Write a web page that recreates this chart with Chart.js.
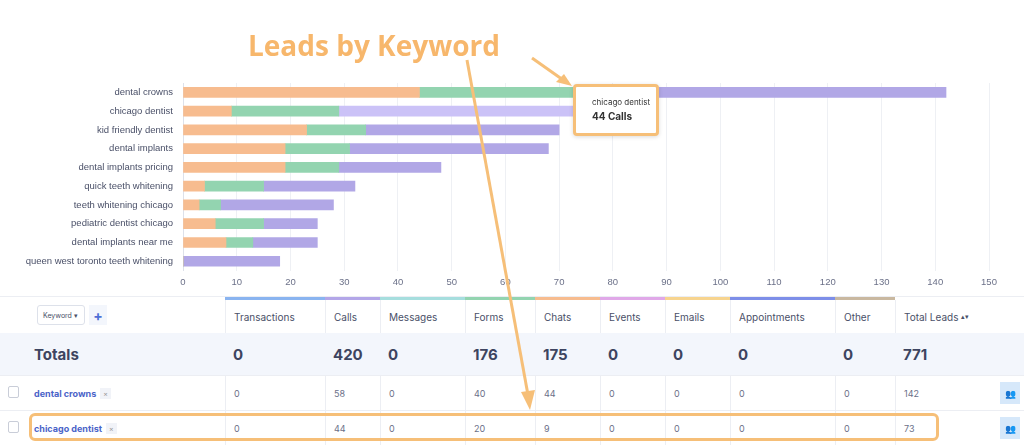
<!DOCTYPE html>
<html><head><meta charset="utf-8">
<script src="https://cdn.jsdelivr.net/npm/chart.js@4/dist/chart.umd.min.js"></script>
<style>
body{margin:0;width:1024px;height:445px;overflow:hidden;background:#fff;font-family:Inter,"Noto Sans",sans-serif;position:relative}
#wrap{position:absolute;left:0;top:0;width:1024px;height:296px}
.c{position:absolute;box-sizing:border-box;display:flex;align-items:center;color:#4a5068;font-size:10px}
</style></head><body>
<div id="wrap"><canvas id="chart"></canvas></div>
<div id="table"></div>
<div style="position:absolute;left:573px;top:84px;width:86px;height:52px;border:3px solid #f6bf78;border-radius:4px;box-sizing:border-box;background:#fff;box-shadow:0 1px 4px rgba(0,0,0,.15)">
  <div style="position:absolute;left:16px;top:10px;font-size:8px;color:#333">chicago dentist</div>
  <div style="position:absolute;left:16px;top:23px;font-size:10px;font-weight:bold;color:#333">44 Calls</div>
</div>
<div style="position:absolute;left:248px;top:26px;font-size:28px;font-weight:bold;color:#f7b76c;font-family:'Open Sans',sans-serif">Leads by Keyword</div>
<div style="position:absolute;left:29px;top:413px;width:910px;height:28px;border:3px solid #f6bf78;border-radius:6px;box-sizing:border-box"></div>
<svg style="position:absolute;left:0;top:0" width="1024" height="445">
  <g stroke="#f6bf78" stroke-width="3" fill="#f6bf78">
    <line x1="532" y1="58" x2="566" y2="82"/>
    <polygon points="572,86 556,82 564,74" stroke="none"/>
    <line x1="467" y1="60" x2="528" y2="395"/>
    <polygon points="530,410 521,392 535,390" stroke="none"/>
  </g>
</svg>
<script>
const keywords = ["dental crowns","chicago dentist","kid friendly dentist","dental implants","dental implants pricing","quick teeth whitening","teeth whitening chicago","pediatric dentist chicago","dental implants near me","queen west toronto teeth whitening"];
const chats = [44, 9, 23, 19, 19, 4, 3, 6, 8, 0];
const forms = [40, 20, 11, 12, 10, 11, 4, 9, 5, 0];
const calls = [58, 44, 36, 37, 19, 17, 21, 10, 12, 18];
const xTicks = [0,10,20,30,40,50,60,70,80,90,100,110,120,130,140,150];

const columns = ["Transactions","Calls","Messages","Forms","Chats","Events","Emails","Appointments","Other","Total Leads"];
const columnColors = ["#8ab4f0","#b3a6e8","#a6dede","#93d4b0","#f7bc8f","#e0a8e8","#f7d48f","#7d8ee8","#c9b8a0",null];
const totals = [0,420,0,176,175,0,0,0,0,771];
const rows = [
  {name:"dental crowns", values:[0,58,0,40,44,0,0,0,0,142]},
  {name:"chicago dentist", values:[0,44,0,20,9,0,0,0,0,73]},
];

const purples = calls.map((v,i) => i === 1 ? "#cbc2f7" : "#b1a7e6");

new Chart(document.getElementById("chart"), {
  type: "bar",
  data: {
    labels: keywords,
    datasets: [
      {label:"Chats", data: chats, backgroundColor:"#f7bc8f"},
      {label:"Forms", data: forms, backgroundColor:"#93d4b0"},
      {label:"Calls", data: calls, backgroundColor: purples},
    ].map(d => ({...d, barThickness: 10, borderWidth: 0})),
  },
  options: {
    indexAxis: "y",
    animation: false,
    responsive: true,
    maintainAspectRatio: false,
    layout: {padding: {top: 83, right: 35, bottom: 2, left: 0}},
    plugins: {legend: {display: false}, tooltip: {enabled: false}},
    scales: {
      x: {
        stacked: true, min: 0, max: 150,
        afterBuildTicks: ax => { ax.ticks = xTicks.map(v => ({value: v})); },
        grid: {color: "#eef0f4", drawTicks: false},
        border: {display: false},
        ticks: {color: "#6b7088", font: {size: 9.5}, padding: 6},
      },
      y: {
        stacked: true,
        afterFit: ax => { ax.width = 183; },
        grid: {display: false},
        border: {color: "#dde1ea"},
        ticks: {color: "#4a5068", font: {size: 9.5}, padding: 2},
      },
    },
  },
});

// table below the chart
const colX = [225,325,380,465,535,600,665,730,835,895,990];
const t = document.getElementById("table");
function cell(x, y, w, h, html, style) {
  const d = document.createElement("div");
  d.className = "c";
  d.style.cssText += `left:${x}px;top:${y}px;width:${w}px;height:${h}px;` + (style || "");
  d.innerHTML = html;
  t.appendChild(d);
}
cell(0, 296, 1024, 1, "", "background:#eceef3");
cell(0, 333, 1024, 42, "", "background:#f3f6fc");
cell(0, 375, 1024, 1, "", "background:#eceef3");
cell(0, 410, 1024, 1, "", "background:#eceef3");
for (let i = 0; i < columns.length; i++) {
  const x = colX[i], w = colX[i+1] - x;
  if (columnColors[i]) cell(x, 297, w, 3, "", `background:${columnColors[i]}`);
  cell(x, 300, w, 33, columns[i] + (i === 9 ? ' <span style="font-size:7px;margin-left:3px">▴▾</span>' : ""), "padding-left:8px;font-size:10px;border-left:1px solid #eceef3");
  cell(x, 333, w, 42, String(totals[i]), "padding-left:8px;font-size:15px;font-weight:bold;color:#3d4460");
  rows.forEach((r, j) => cell(x, 376 + j*35, w, 34, String(r.values[i]), "padding-left:8px;font-size:9px;color:#6b7088;border-left:1px solid #eceef3"));
}
cell(37, 305, 48, 20, "Keyword ▾", "border:1px solid #dde1ea;border-radius:3px;font-size:7px;padding-left:5px;background:#fff");
cell(89, 305, 18, 20, "+", "font-size:14px;font-weight:bold;color:#4f6fd6;justify-content:center;background:#f3f6fc");
cell(34, 333, 150, 42, "Totals", "font-size:15px;font-weight:bold;color:#3d4460");
rows.forEach((r, j) => {
  const y = 376 + j*35;
  cell(8, y + 10, 11, 12, "", "border:1px solid #c9cdd8;border-radius:2px;background:#fff");
  cell(34, y, 180, 34, `<b style="color:#4a63c8;font-size:9px">${r.name}</b><span style="font-size:7px;color:#999;margin-left:4px;padding:1px 3px;background:#f1f3f8">×</span>`);
  cell(1000, y + 6, 20, 22, "👥", "background:#d6e8fa;font-size:9px;justify-content:center;color:#4a63c8");
});
</script>
</body></html>
